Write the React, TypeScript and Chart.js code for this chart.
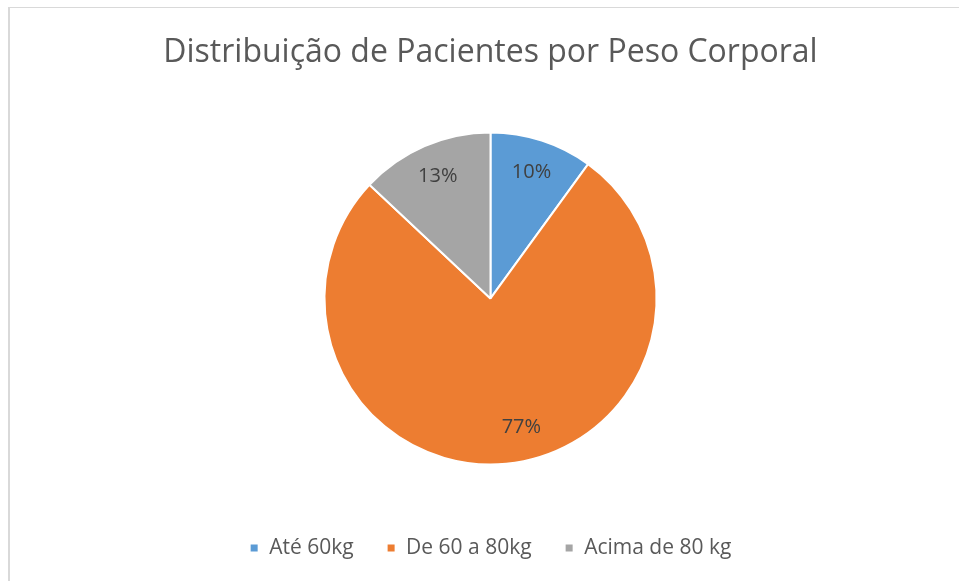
import React, { useEffect, useRef } from "react";
import { Chart, registerables } from "chart.js";

Chart.register(...registerables);

const chartTitle = "Distribuição de Pacientes por Peso Corporal";
const categories = ["Até 60kg", "De 60 a 80kg", "Acima de 80 kg"];
const shares = [10, 77, 13];
const sliceColors = ["#5B9BD5", "#ED7D31", "#A5A5A5"];

const FONT = "'Open Sans', 'Noto Sans', sans-serif";

const pieLabels = {
  id: "pieLabels",
  afterDatasetsDraw(chart: any) {
    const ctx = chart.ctx;
    const meta = chart.getDatasetMeta(0);
    const data = chart.data.datasets[0].data as number[];
    const total = data.reduce((a, b) => a + b, 0);
    ctx.save();
    ctx.font = `20px ${FONT}`;
    ctx.fillStyle = "#404040";
    ctx.textAlign = "center";
    ctx.textBaseline = "middle";
    meta.data.forEach((arc: any, i: number) => {
      const { x, y, startAngle, endAngle, outerRadius } = arc.getProps(
        ["x", "y", "startAngle", "endAngle", "outerRadius"],
        true
      );
      const frac = data[i] / total;
      // Excel's best-fit nudges the label of a very large slice toward its start
      const mid = (startAngle + endAngle) / 2 - (frac > 0.5 ? 0.14 : 0);
      const r = outerRadius * 0.8;
      const pct = Math.round(frac * 100) + "%";
      ctx.fillText(pct, x + Math.cos(mid) * r, y + Math.sin(mid) * r);
    });
    ctx.restore();
  },
};

export default function App() {
  const canvasRef = useRef<HTMLCanvasElement | null>(null);

  useEffect(() => {
    document.body.style.margin = "0";
    const canvas = canvasRef.current;
    if (!canvas) return;
    const chart = new Chart(canvas, {
      type: "pie",
      data: {
        labels: categories,
        datasets: [
          {
            data: shares,
            backgroundColor: sliceColors,
            borderColor: "#ffffff",
            borderWidth: 2,
          },
        ],
      },
      plugins: [pieLabels],
      options: {
        responsive: false,
        animation: false,
        layout: { padding: { top: 0, bottom: 12.5, left: 22, right: 0 } },
        plugins: {
          tooltip: { enabled: false },
          title: {
            display: true,
            text: chartTitle,
            color: "#595959",
            font: { family: FONT, size: 32, weight: "normal", lineHeight: 1.2 },
            padding: { top: 34, bottom: 59 },
          },
          legend: {
            display: true,
            position: "bottom",
            title: {
              display: true,
              text: "",
              font: { size: 10, lineHeight: 1 },
              padding: { top: 29, bottom: 0 },
            },
            labels: {
              boxWidth: 9,
              boxHeight: 9,
              padding: 33,
              color: "#595959",
              font: { family: FONT, size: 21 },
            },
          },
        },
      },
    });
    return () => chart.destroy();
  }, []);

  return (
    <div style={{ position: "relative", width: 959, height: 581, overflow: "hidden", background: "#fff" }}>
      <div
        style={{
          position: "absolute",
          left: 8,
          top: 7,
          width: 1200,
          height: 1200,
          borderTop: "1px solid #d9d9d9",
          borderLeft: "2px solid #d9d9d9",
          boxSizing: "border-box",
        }}
      />
      <canvas
        ref={canvasRef}
        width={959}
        height={581}
        style={{ position: "absolute", left: 0, top: 0, width: 959, height: 581 }}
      />
    </div>
  );
}
